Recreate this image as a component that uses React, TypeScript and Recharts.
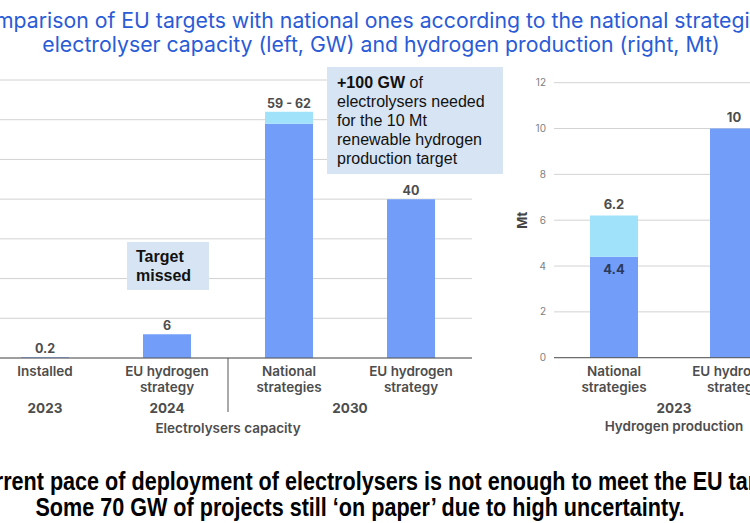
import React from 'react';
import { BarChart, Bar, XAxis, YAxis, CartesianGrid, LabelList } from 'recharts';

// Left chart: electrolyser capacity (GW)
const capCategories = ['Installed', 'EU hydrogen|strategy', 'National|strategies', 'EU hydrogen|strategy'];
const capYears = ['2023', '2024', '2030', '2030'];
const capBase = [0.2, 6, 59, 40];
const capExtra = [0, 0, 3, 0];
const capLabels = ['0.2', '6', '59 - 62', '40'];
const capTicks = [0, 10, 20, 30, 40, 50, 60, 70];
const capSeparators = [2];

// Right chart: hydrogen production (Mt)
const h2Categories = ['National|strategies', 'EU hydrogen|strategy'];
const h2Years = ['2023', '2023'];
const h2Base = [4.4, 10];
const h2Extra = [1.8, 0];
const h2TotalLabels = ['6.2', '10'];
const h2BaseLabels = ['4.4', ''];
const h2Ticks = [0, 2, 4, 6, 8, 10, 12];

// the total label goes on the top-most non-empty segment
const capData = capCategories.map((c, i) => ({
  cat: c,
  base: capBase[i],
  extra: capExtra[i],
  topOnBase: capExtra[i] > 0 ? '' : capLabels[i],
  topOnExtra: capExtra[i] > 0 ? capLabels[i] : '',
}));
const h2Data = h2Categories.map((c, i) => ({
  cat: c,
  base: h2Base[i],
  extra: h2Extra[i],
  baseLabel: h2BaseLabels[i],
  topOnBase: h2Extra[i] > 0 ? '' : h2TotalLabels[i],
  topOnExtra: h2Extra[i] > 0 ? h2TotalLabels[i] : '',
}));

const DARK = '#729ef9';
const LIGHT = '#a0e2fa';
const AXIS_TEXT = '#4d4d4d';
const FONT = 'Inter, "Noto Sans", sans-serif';

const LEFT_W = 488;
const RIGHT_PLOT_W = 240;

function makeTick(cats: string[], years: string[], band: number, seps: number[]) {
  return (props: any) => {
    const { x, y, index } = props;
    const lines = cats[index].split('|');
    const base = y - 8;
    let yearEl: any = null;
    if (index === 0 || years[index] !== years[index - 1]) {
      let k = 1;
      while (index + k < years.length && years[index + k] === years[index]) k++;
      const cx = x + ((k - 1) * band) / 2;
      yearEl = (
        <text x={cx} y={base + 55} textAnchor="middle" fill={AXIS_TEXT} fontSize={13.5} fontWeight={700}>
          {years[index]}
        </text>
      );
    }
    return (
      <g>
        {lines.map((l, i) => (
          <text key={i} x={x} y={base + 18 + i * 16} textAnchor="middle" fill={AXIS_TEXT} fontSize={13.5} fontWeight={600}>
            {l}
          </text>
        ))}
        {yearEl}
        {seps.includes(index) && (
          <line x1={x - band / 2} x2={x - band / 2} y1={base} y2={base + 54} stroke="#555" strokeWidth={1} />
        )}
      </g>
    );
  };
}

const narrowBold: React.CSSProperties = {
  fontFamily: '"Liberation Sans", Arial, sans-serif',
  fontWeight: 700,
  fontSize: 26,
  lineHeight: '26px',
  color: '#000',
  transform: 'scaleX(0.83)',
  transformOrigin: '500px 50%',
};

export default function App() {
  const leftBand = LEFT_W / capCategories.length;
  const rightBand = RIGHT_PLOT_W / h2Categories.length;
  return (
    <div style={{ position: 'absolute', left: 0, top: 0, width: 750, height: 523, overflow: 'hidden', background: '#fff', fontFamily: FONT }}>
      <div style={{ position: 'absolute', top: 8, left: -130, width: 1000, textAlign: 'center', whiteSpace: 'nowrap', fontSize: 21.25, lineHeight: '24px', color: '#2a5bd7' }}>
        Comparison of EU targets with national ones according to the national strategies
      </div>
      <div style={{ position: 'absolute', top: 32, left: -119, width: 1000, textAlign: 'center', whiteSpace: 'nowrap', fontSize: 21.25, lineHeight: '24px', color: '#2a5bd7' }}>
        electrolyser capacity (left, GW) and hydrogen production (right, Mt)
      </div>

      <div style={{ position: 'absolute', left: -16, top: 0 }}>
        <BarChart width={LEFT_W} height={445} data={capData} margin={{ top: 80, right: 0, left: 0, bottom: 7 }} style={{ fontFamily: FONT }}>
          <CartesianGrid vertical={false} stroke="#d2d2d2" />
          <YAxis hide domain={[0, 70]} ticks={capTicks} />
          <XAxis
            dataKey="cat"
            interval={0}
            tickLine={false}
            axisLine={{ stroke: '#555' }}
            height={80}
            tick={makeTick(capCategories, capYears, leftBand, capSeparators)}
            label={{ value: 'Electrolysers capacity', position: 'insideBottom', offset: 5, fill: AXIS_TEXT, fontSize: 13.5, fontWeight: 600 }}
          />
          <Bar dataKey="base" stackId="a" fill={DARK} barSize={48} isAnimationActive={false}>
            <LabelList dataKey="topOnBase" position="top" offset={4} fill={AXIS_TEXT} fontSize={12.5} fontWeight={700} />
          </Bar>
          <Bar dataKey="extra" stackId="a" fill={LIGHT} barSize={48} isAnimationActive={false}>
            <LabelList dataKey="topOnExtra" position="top" offset={4} fill={AXIS_TEXT} fontSize={12.5} fontWeight={700} />
          </Bar>
        </BarChart>
      </div>

      <div style={{ position: 'absolute', left: 514, top: 0 }}>
        <BarChart width={280} height={445} data={h2Data} margin={{ top: 82.7, right: 0, left: 0, bottom: 7.3 }} style={{ fontFamily: FONT }}>
          <CartesianGrid vertical={false} stroke="#d2d2d2" />
          <YAxis
            width={40}
            domain={[0, 12]}
            ticks={h2Ticks}
            tickLine={false}
            axisLine={false}
            tick={{ fill: '#808080', fontSize: 10 }}
            label={{
              content: (p: any) => {
                const vb = p.viewBox;
                const cx = vb.x + 8;
                const cy = vb.y + vb.height / 2;
                return (
                  <text x={cx} y={cy} transform={`rotate(-90 ${cx} ${cy})`} textAnchor="middle" dominantBaseline="central" fill="#444" fontSize={13} fontWeight={700}>
                    Mt
                  </text>
                );
              },
            }}
          />
          <XAxis
            dataKey="cat"
            interval={0}
            tickLine={false}
            axisLine={{ stroke: '#555' }}
            height={80}
            tick={makeTick(h2Categories, h2Years, rightBand, [])}
            label={{ value: 'Hydrogen production', position: 'insideBottom', offset: 7, fill: AXIS_TEXT, fontSize: 13.5, fontWeight: 600 }}
          />
          <Bar dataKey="base" stackId="a" fill={DARK} barSize={48} isAnimationActive={false}>
            <LabelList dataKey="baseLabel" position="insideTop" offset={8} fill="#2b3a5c" fontSize={13} fontWeight={700} />
            <LabelList dataKey="topOnBase" position="top" offset={7} fill={AXIS_TEXT} fontSize={13} fontWeight={700} />
          </Bar>
          <Bar dataKey="extra" stackId="a" fill={LIGHT} barSize={48} isAnimationActive={false}>
            <LabelList dataKey="topOnExtra" position="top" offset={7} fill={AXIS_TEXT} fontSize={13} fontWeight={700} />
          </Bar>
        </BarChart>
      </div>

      <div style={{ position: 'absolute', left: 327, top: 67, width: 176, height: 107, background: '#d6e4f3', fontFamily: '"Liberation Sans", Arial, sans-serif', fontSize: 16, lineHeight: '19px', color: '#111', padding: '6px 0 0 10px', boxSizing: 'border-box' }}>
        <b>+100 GW</b> of<br />electrolysers needed<br />for the 10 Mt<br />renewable hydrogen<br />production target
      </div>
      <div style={{ position: 'absolute', left: 127, top: 242, width: 82, height: 48, background: '#d6e4f3', fontFamily: '"Liberation Sans", Arial, sans-serif', fontSize: 16, lineHeight: '19px', fontWeight: 700, color: '#111', padding: '5px 0 0 9px', boxSizing: 'border-box' }}>
        Target<br />missed
      </div>

      <div style={{ ...narrowBold, position: 'absolute', top: 468, left: -119, width: 1000, textAlign: 'center', whiteSpace: 'nowrap' }}>
        Current pace of deployment of electrolysers is not enough to meet the EU targets.
      </div>
      <div style={{ ...narrowBold, position: 'absolute', top: 494, left: -140, width: 1000, textAlign: 'center', whiteSpace: 'nowrap' }}>
        Some 70 GW of projects still ‘on paper’ due to high uncertainty.
      </div>
    </div>
  );
}
